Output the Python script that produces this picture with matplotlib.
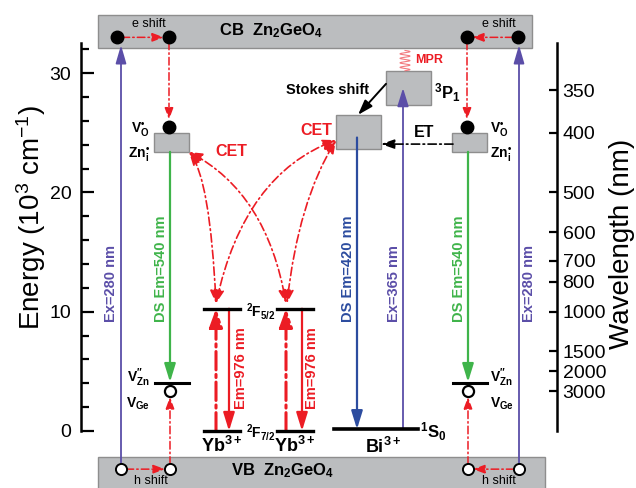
import numpy as np
import matplotlib
matplotlib.use("Agg")
import matplotlib.pyplot as plt
from matplotlib.patches import Rectangle, FancyArrowPatch, ArrowStyle
from matplotlib.path import Path

plt.rcParams['font.family'] = ['Liberation Sans', 'DejaVu Sans']
plt.rcParams['mathtext.fontset'] = 'custom'
plt.rcParams['mathtext.rm'] = 'Liberation Sans'
plt.rcParams['mathtext.it'] = 'Liberation Sans:italic'
plt.rcParams['mathtext.bf'] = 'Liberation Sans:bold'
plt.rcParams['mathtext.default'] = 'regular'

# energy levels, 10^3 cm^-1
cb_edge = 32.1
vb_edge = -2.2
electron_y = 33.0
hole_y = -3.2
defect_box = (23.4, 25.0)      # V_O / Zn_i donor band
defect_dot = 25.5
vzn_level = 4.0
vzn_hole = 3.35
yb_levels = [0.0, 10.25]        # 2F7/2, 2F5/2
bi_ground = 0.15                # 1S0
bi_3p1 = (27.3, 30.2)
bi_emit = (23.6, 26.5)
ex365_top = 28.75
et_y = 24.05

wl_ticks = [350, 400, 500, 600, 700, 800, 1000, 1500, 2000, 3000]
energy_ticks = [0, 10, 20, 30]

RED = '#ec1c24'
PURPLE = '#5b4ea8'
BLUE = '#2c4c9f'
GREEN = '#3fb44a'
GRAY = '#bbbdbf'
DASHDOT = (0, (5, 2, 1, 2))

fig = plt.figure(figsize=(6.36, 4.88), dpi=100)
ax = fig.add_axes([81 / 636, 0, 476 / 636, 1])
ax.set_xlim(81, 557)
ax.set_ylim(-4.78, 36.13)
ax2 = ax.twinx()
ax2.set_ylim(ax.get_ylim())

for s in ['top', 'bottom', 'right']:
    ax.spines[s].set_visible(False)
for s in ['top', 'bottom', 'left']:
    ax2.spines[s].set_visible(False)
ax.spines['left'].set_bounds(0, 32.5)
ax.spines['left'].set_linewidth(1.8)
ax2.spines['right'].set_bounds(0, 32.5)
ax2.spines['right'].set_linewidth(1.8)

ax.set_xticks([])
ax.set_yticks(energy_ticks)
ax.set_yticks(np.arange(0, 33, 2), minor=True)
ax.tick_params(axis='y', which='major', direction='in', length=9, width=1.6,
               labelsize=14, pad=7)
ax.tick_params(axis='y', which='minor', direction='in', length=6, width=1.6)
ax2.set_yticks([1e4 / w for w in wl_ticks])
ax2.set_yticklabels([str(w) for w in wl_ticks])
ax2.tick_params(axis='y', direction='in', length=6, width=1.6, labelsize=14, pad=4)

fig.text(31 / 636, 1 - 217 / 488, r'Energy (10$^3$ cm$^{-1}$)', rotation=90,
         ha='center', va='center', fontsize=20)
fig.text(622 / 636, 1 - 244 / 488, 'Wavelength (nm)', rotation=90,
         ha='center', va='center', fontsize=20)


def arrow(x0, y0, x1, y1, color, lw=1.3, ls='-', hl=9, hw=3.0):
    st = ArrowStyle('-|>', head_length=hl, head_width=hw)
    ax.add_patch(FancyArrowPatch((x0, y0), (x1, y1), arrowstyle=st,
                                 mutation_scale=1, color=color, lw=lw,
                                 linestyle=ls, shrinkA=0, shrinkB=0, zorder=4))


def curve(p0, c, p1):
    st = ArrowStyle('<|-|>', head_length=8, head_width=3.2)
    path = Path([p0, c, p1], [Path.MOVETO, Path.CURVE3, Path.CURVE3])
    ax.add_patch(FancyArrowPatch(path=path, arrowstyle=st, mutation_scale=1,
                                 color=RED, lw=1.2, linestyle=DASHDOT, zorder=4))


def box(x0, x1, y0, y1):
    ax.add_patch(Rectangle((x0, y0), x1 - x0, y1 - y0, fc=GRAY, ec='#8e8e8e',
                           lw=1, zorder=2))


def vlabel(x, y, s, color, va='bottom'):
    ax.text(x, y, s, rotation=90, color=color, fontsize=10.5,
            fontweight='bold', ha='center', va=va, zorder=5)


# conduction / valence bands
box(98, 532, cb_edge, 34.87)
box(98, 545, -6, vb_edge)
ax.text(271, 33.6, r'CB  Zn$_\mathbf{2}$GeO$_\mathbf{4}$', fontsize=12,
        fontweight='bold', ha='center', va='center', zorder=5)
ax.text(283, -3.3, r'VB  Zn$_\mathbf{2}$GeO$_\mathbf{4}$', fontsize=12,
        fontweight='bold', ha='center', va='center', zorder=5)

sides = [(117, 169, 121, 170, 1), (518, 467, 519, 468, -1)]
for xe_far, xe, xex, xd, sgn in sides:
    # excitation 280 nm
    arrow(xex, hole_y, xex, 32.35, PURPLE, lw=1.3, hl=11, hw=3.2)
    vlabel(xex - 10 * sgn, 9.1, 'Ex=280 nm', PURPLE)
    # electron shift in CB
    arrow(xe_far + 5 * sgn, electron_y, xe - 5 * sgn, electron_y, RED, lw=1.1,
          ls=DASHDOT, hl=7, hw=2.6)
    ax.plot([xe_far, xe], [electron_y, electron_y], 'o', color='k', ms=9, zorder=6)
    ax.text((xe_far + xe) / 2 + 6, 34.1, 'e shift', fontsize=9, ha='center',
            va='center', zorder=5)
    # CB -> donor
    arrow(xe, electron_y - 0.4, xe, 26.1, RED, lw=1.1, ls=DASHDOT, hl=7, hw=2.6)
    ax.plot(xe, defect_dot, 'o', color='k', ms=9, zorder=6)
    box(xd - 16, xd + 19, *defect_box)
    # green emission
    arrow(xd, defect_box[0], xd, vzn_level + 0.1, GREEN, lw=1.6, hl=11, hw=3.4)
    vlabel(xd - 9, 9.1, 'DS Em=540 nm', GREEN)
    ax.plot([xd - 15, xd + 19], [vzn_level, vzn_level], color='k', lw=2.2, zorder=5)
    ax.plot(xd, vzn_hole, 'o', mfc='white', mec='k', mew=1.6, ms=8, zorder=6)
    # hole shift in VB
    ax.plot([xex, xd], [hole_y, hole_y], 'o', mfc='white', mec='k', mew=1.4,
            ms=8, zorder=6)
    arrow(xex + 5 * sgn, hole_y, xd - 5 * sgn, hole_y, RED, lw=1.1,
          ls=DASHDOT, hl=7, hw=2.6)
    ax.text((xex + xd) / 2 + 5, -4.2, 'h shift', fontsize=9, ha='center',
            va='center', zorder=5)
    arrow(xd, hole_y + 0.4, xd, vzn_hole - 0.5, RED, lw=1.1, ls=DASHDOT,
          hl=7, hw=2.6)

# defect labels
for xl, ha in [(150, 'right'), (490, 'left')]:
    ax.text(xl, 25.3, '$\\mathbf{V}_\\mathbf{O}^{\\mathbf{\u2022}}$',
            fontsize=10, ha=ha, va='center')
    ax.text(xl, 23.2, '$\\mathbf{Zn}_\\mathbf{i}^{\\mathbf{\u2022}}$',
            fontsize=10, ha=ha, va='center')
    ax.text(xl, 4.5, '$\\mathbf{V}_\\mathbf{Zn}^{\\mathbf{\u2033}}$',
            fontsize=10, ha=ha, va='center')
    ax.text(xl, 2.3, r'$\mathbf{V}_\mathbf{Ge}$', fontsize=10, ha=ha, va='center')

# Yb3+ levels
for xs, xdd, xem, xlab in [(204, 216, 229, 241), (277, 286, 302, 312)]:
    for lv in yb_levels:
        ax.plot([xs, xs + 36], [lv, lv], color='k', lw=2.4, zorder=5)
    arrow(xdd, yb_levels[0], xdd, yb_levels[1], RED, lw=2.2,
          ls=(0, (6, 1.5, 1, 1.5)), hl=11, hw=4)
    arrow(xem, yb_levels[1], xem, yb_levels[0], RED, lw=1.6, hl=11, hw=3.4)
    vlabel(xlab, 5.3, 'Em=976 nm', RED, va='center')
    ax.text(xs + 18, -1.25, r'$\mathbf{Yb}^\mathbf{3+}$', fontsize=13,
            ha='center', va='center')
ax.text(246, 10.0, r'$^\mathbf{2}\mathbf{F}_\mathbf{5/2}$', fontsize=10,
        ha='left', va='center')
ax.text(246, -0.15, r'$^\mathbf{2}\mathbf{F}_\mathbf{7/2}$', fontsize=10,
        ha='left', va='center')

# Bi3+ centre
ax.plot([334, 418], [bi_ground, bi_ground], color='k', lw=2.6, zorder=5)
ax.text(383, -1.3, r'$\mathbf{Bi}^\mathbf{3+}$', fontsize=13, ha='center', va='center')
ax.text(420, -0.05, r'$^\mathbf{1}\mathbf{S}_\mathbf{0}$', fontsize=12,
        ha='left', va='center')
box(386, 431, *bi_3p1)
box(336, 381, *bi_emit)
ax.text(434, 28.4, r'$^\mathbf{3}\mathbf{P}_\mathbf{1}$', fontsize=12,
        ha='left', va='center')
arrow(357, 24.6, 357, bi_ground, BLUE, lw=1.6, hl=11, hw=3.4)
vlabel(348, 9.1, 'DS Em=420 nm', BLUE)
arrow(403, bi_ground, 403, ex365_top, PURPLE, lw=1.3, hl=11, hw=3.4)
vlabel(394, 9.1, 'Ex=365 nm', PURPLE)
ax.text(369, 28.6, 'Stokes shift', fontsize=10.5, fontweight='bold',
        ha='right', va='center')
arrow(386, 29.1, 358, 26.5, 'k', lw=1.4, hl=9, hw=3)

# MPR squiggle
ys = np.linspace(30.2, 31.9, 200)
ax.plot(405 + 5 * np.sin((ys - 30.2) / 1.7 * 2 * np.pi * 4.5), ys,
        color='#f27c80', lw=0.8, zorder=4)
ax.text(415, 31.1, 'MPR', color=RED, fontsize=9, fontweight='bold',
        ha='left', va='center')

# ET from donor band to Bi
arrow(453, et_y, 381, et_y, 'k', lw=1.2, ls=DASHDOT, hl=8, hw=2.8)
ax.text(424, 25.0, 'ET', fontsize=11.5, fontweight='bold', ha='center', va='center')

# CET curves
curve((189, 23.39), (210, 21.2), (216, 10.7))
curve((189, 23.39), (267, 19.95), (286, 10.7))
curve((336, 24.39), (244, 21.5), (216, 10.7))
curve((336, 24.39), (298, 19.2), (287, 10.7))
ax.text(231, 23.4, 'CET', color=RED, fontsize=11.5, fontweight='bold',
        ha='center', va='center')
ax.text(316, 25.2, 'CET', color=RED, fontsize=11.5, fontweight='bold',
        ha='center', va='center')

fig.savefig('out.png', dpi=100)
